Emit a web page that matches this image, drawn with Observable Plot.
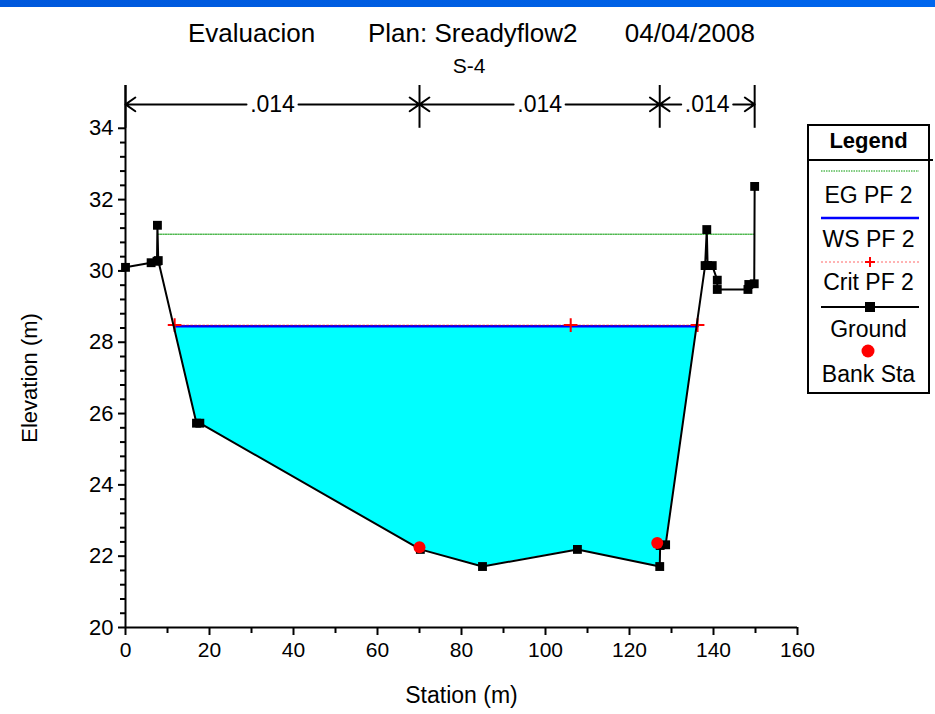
<!DOCTYPE html>
<html><head><meta charset="utf-8">
<script src="https://cdn.jsdelivr.net/npm/d3@7"></script>
<script src="https://cdn.jsdelivr.net/npm/@observablehq/plot@0.6"></script>
<style>
body{margin:0;background:#fff;width:935px;height:714px;overflow:hidden;font-family:"Liberation Sans",Arial,sans-serif}
#bar{height:7px;background:linear-gradient(90deg,#0058dc,#0060e4 60%,#0066ee)}
#chart svg{display:block}
</style></head><body><div id="bar"></div><div id="chart"></div>
<script>
// ---- text ----
const titleParts = ["Evaluacion", "Plan: Sreadyflow2", "04/04/2008"];
const subtitle = "S-4";
const xLabel = "Station (m)";
const yLabel = "Elevation (m)";
const legendTitle = "Legend";
const legendLabels = ["EG PF 2", "WS PF 2", "Crit PF 2", "Ground", "Bank Sta"];

// ---- data ----
const groundStation = [0, 6.1, 7.5, 7.6, 7.8, 16.9, 17.7, 70.2, 85.0, 107.6, 127.2, 127.3, 128.6, 138.0, 138.4, 138.6, 139.7, 140.9, 140.9, 148.2, 148.4, 149.7, 149.8];
const groundElev    = [30.10, 30.23, 30.27, 31.28, 30.29, 25.73, 25.73, 22.19, 21.71, 22.19, 21.71, 22.30, 22.32, 30.15, 31.16, 30.15, 30.15, 29.74, 29.48, 29.48, 29.62, 29.64, 32.37];
const bankStation = [70.0, 126.6];
const bankElev = [22.25, 22.37];
const wsStation = [11.7, 136.2];
const wsElev = 28.45;
const critStation = [11.7, 106.0, 136.2];
const critElev = 28.48;
const egStation = [7.7, 149.8];
const egElev = 31.03;
const nBreaks = [0, 70, 127.2, 149.8];
const nValues = [".014", ".014", ".014"];
const xTicks = [0, 20, 40, 60, 80, 100, 120, 140, 160];
const yTicks = [20, 22, 24, 26, 28, 30, 32, 34];

// ---- derived tables ----
const ground = groundStation.map((x, i) => ({x, y: groundElev[i]}));
const banks = bankStation.map((x, i) => ({x, y: bankElev[i]}));
const ws = wsStation.map(x => ({x, y: wsElev}));
const crit = critStation.map(x => ({x, y: critElev}));
const eg = egStation.map(x => ({x, y: egElev}));
const water = [{x: wsStation[0], g: wsElev}]
  .concat(ground.filter(d => d.x > wsStation[0] && d.x < wsStation[1]).map(d => ({x: d.x, g: d.y})))
  .concat([{x: wsStation[1], g: wsElev}]);
const nSeg = nValues.map((t, i) => ({a: nBreaks[i], b: nBreaks[i + 1], c: (nBreaks[i] + nBreaks[i + 1]) / 2, t}));
const nTop = 35.2, nBottom = 34, nArrow = 34.67;
const xMinor = d3.range(10, 160, 20);
const yMinor = d3.range(20, 34, 0.4).filter(v => Math.abs(v - Math.round(v / 2) * 2) > 0.01);
const yMid = (yTicks[0] + yTicks[yTicks.length - 1]) / 2;

const chart = Plot.plot({
  width: 935,
  height: 707,
  marginLeft: 125,
  marginRight: 138,
  marginTop: 78,
  marginBottom: 87,
  style: {fontFamily: "'Liberation Sans', Arial, sans-serif", fontSize: "21px", color: "black", background: "white"},
  x: {domain: [0, 160]},
  y: {domain: [20, nTop]},
  marks: [
    Plot.areaY(water, {x: "x", y1: "g", y2: wsElev, fill: "#00ffff"}),
    Plot.line(eg, {x: "x", y: "y", stroke: "#009900", strokeWidth: 1, strokeDasharray: "1.5,1"}),
    Plot.line(ws, {x: "x", y: "y", stroke: "#0000ff", strokeWidth: 2.5}),
    Plot.line(crit, {x: "x", y: "y", stroke: "#ff0000", strokeWidth: 1, strokeDasharray: "2,2", strokeOpacity: 0.6}),
    Plot.dot(crit, {x: "x", y: "y", symbol: "plus", stroke: "#ff0000", r: 4.5, strokeWidth: 2}),
    Plot.line(ground, {x: "x", y: "y", stroke: "black", strokeWidth: 2}),
    Plot.dot(ground, {x: "x", y: "y", symbol: "square", fill: "black", r: 5}),
    Plot.dot(banks, {x: "x", y: "y", fill: "#ff0000", r: 6}),
    // Manning's n bracket
    Plot.ruleX(nBreaks, {x: d => d, y1: nBottom, y2: nTop, stroke: "black", strokeWidth: 2}),
    Plot.arrow(nSeg, {x1: "c", x2: "a", y1: nArrow, y2: nArrow, bend: 0, insetStart: 26, headLength: 9, headAngle: 70, stroke: "black", strokeWidth: 2}),
    Plot.arrow(nSeg, {x1: "c", x2: "b", y1: nArrow, y2: nArrow, bend: 0, insetStart: 26, headLength: 9, headAngle: 70, stroke: "black", strokeWidth: 2}),
    Plot.text(nSeg, {x: "c", y: nArrow, text: "t", fontSize: 23, fill: "black"}),
    // axes
    Plot.axisX({ticks: xMinor, tickSize: 6, text: null, label: null, strokeWidth: 2}),
    Plot.axisX({ticks: xTicks, tickSize: 8, tickPadding: 7, strokeWidth: 2, fontSize: 21, label: null}),
    Plot.axisX({ticks: [], label: xLabel, labelArrow: false, labelAnchor: "center", labelOffset: 75, fontSize: 23}),
    Plot.axisY({ticks: yMinor, tickSize: 5, text: null, label: null, strokeWidth: 2}),
    Plot.axisY({ticks: yTicks, tickSize: 7, tickPadding: 5, strokeWidth: 2, fontSize: 22, label: null}),
    Plot.text([yLabel], {y: () => yMid, text: d => d, frameAnchor: "left", textAnchor: "middle", rotate: -90, dx: -96, lineAnchor: "middle", fontSize: 22, fill: "black"}),
    Plot.ruleY([20], {stroke: "black", strokeWidth: 2}),
    Plot.ruleX([0], {stroke: "black", strokeWidth: 2})
  ]
});
document.getElementById("chart").appendChild(chart);

// ---- titles ----
const svg = d3.select(chart);
const ff = "'Liberation Sans', Arial, sans-serif";
const tg = svg.append("g").attr("font-family", ff).attr("fill", "black").attr("text-anchor", "start");
tg.append("text").attr("x", 188).attr("y", 35).attr("font-size", 26).text(titleParts[0]);
tg.append("text").attr("x", 368).attr("y", 35).attr("font-size", 26).text(titleParts[1]);
tg.append("text").attr("x", 755).attr("y", 35).attr("font-size", 26).attr("text-anchor", "end").text(titleParts[2]);
tg.append("text").attr("x", 469).attr("y", 66).attr("font-size", 21).attr("text-anchor", "middle").text(subtitle);

// ---- legend ----
const lg = svg.append("g").attr("font-family", ff);
lg.append("rect").attr("x", 808).attr("y", 118).attr("width", 121).attr("height", 268)
  .attr("fill", "white").attr("stroke", "black").attr("stroke-width", 2);
lg.append("line").attr("x1", 808).attr("x2", 933).attr("y1", 153).attr("y2", 153).attr("stroke", "black").attr("stroke-width", 2);
lg.append("text").attr("x", 868.5).attr("y", 141).attr("text-anchor", "middle").attr("font-size", 22).attr("font-weight", "bold").text(legendTitle);
const sw = (y, color, w, dash) => lg.append("line").attr("x1", 821).attr("x2", 919).attr("y1", y).attr("y2", y)
  .attr("stroke", color).attr("stroke-width", w).attr("stroke-dasharray", dash || null);
sw(164, "#009900", 1, "1.5,1");
sw(211, "#0000ff", 2.5);
sw(255, "#ff0000", 1, "2,2").attr("stroke-opacity", 0.6);
lg.append("path").attr("d", "M865,255h10M870,250v10").attr("stroke", "#ff0000").attr("stroke-width", 2);
sw(300, "black", 2);
lg.append("rect").attr("x", 865).attr("y", 295).attr("width", 10).attr("height", 10).attr("fill", "black");
lg.append("circle").attr("cx", 868).attr("cy", 344).attr("r", 6.5).attr("fill", "#ff0000");
const ly = [196, 240, 283, 330, 375];
legendLabels.forEach((t, i) => lg.append("text").attr("x", 868.5).attr("y", ly[i]).attr("text-anchor", "middle").attr("font-size", 23).text(t));
</script></body></html>
